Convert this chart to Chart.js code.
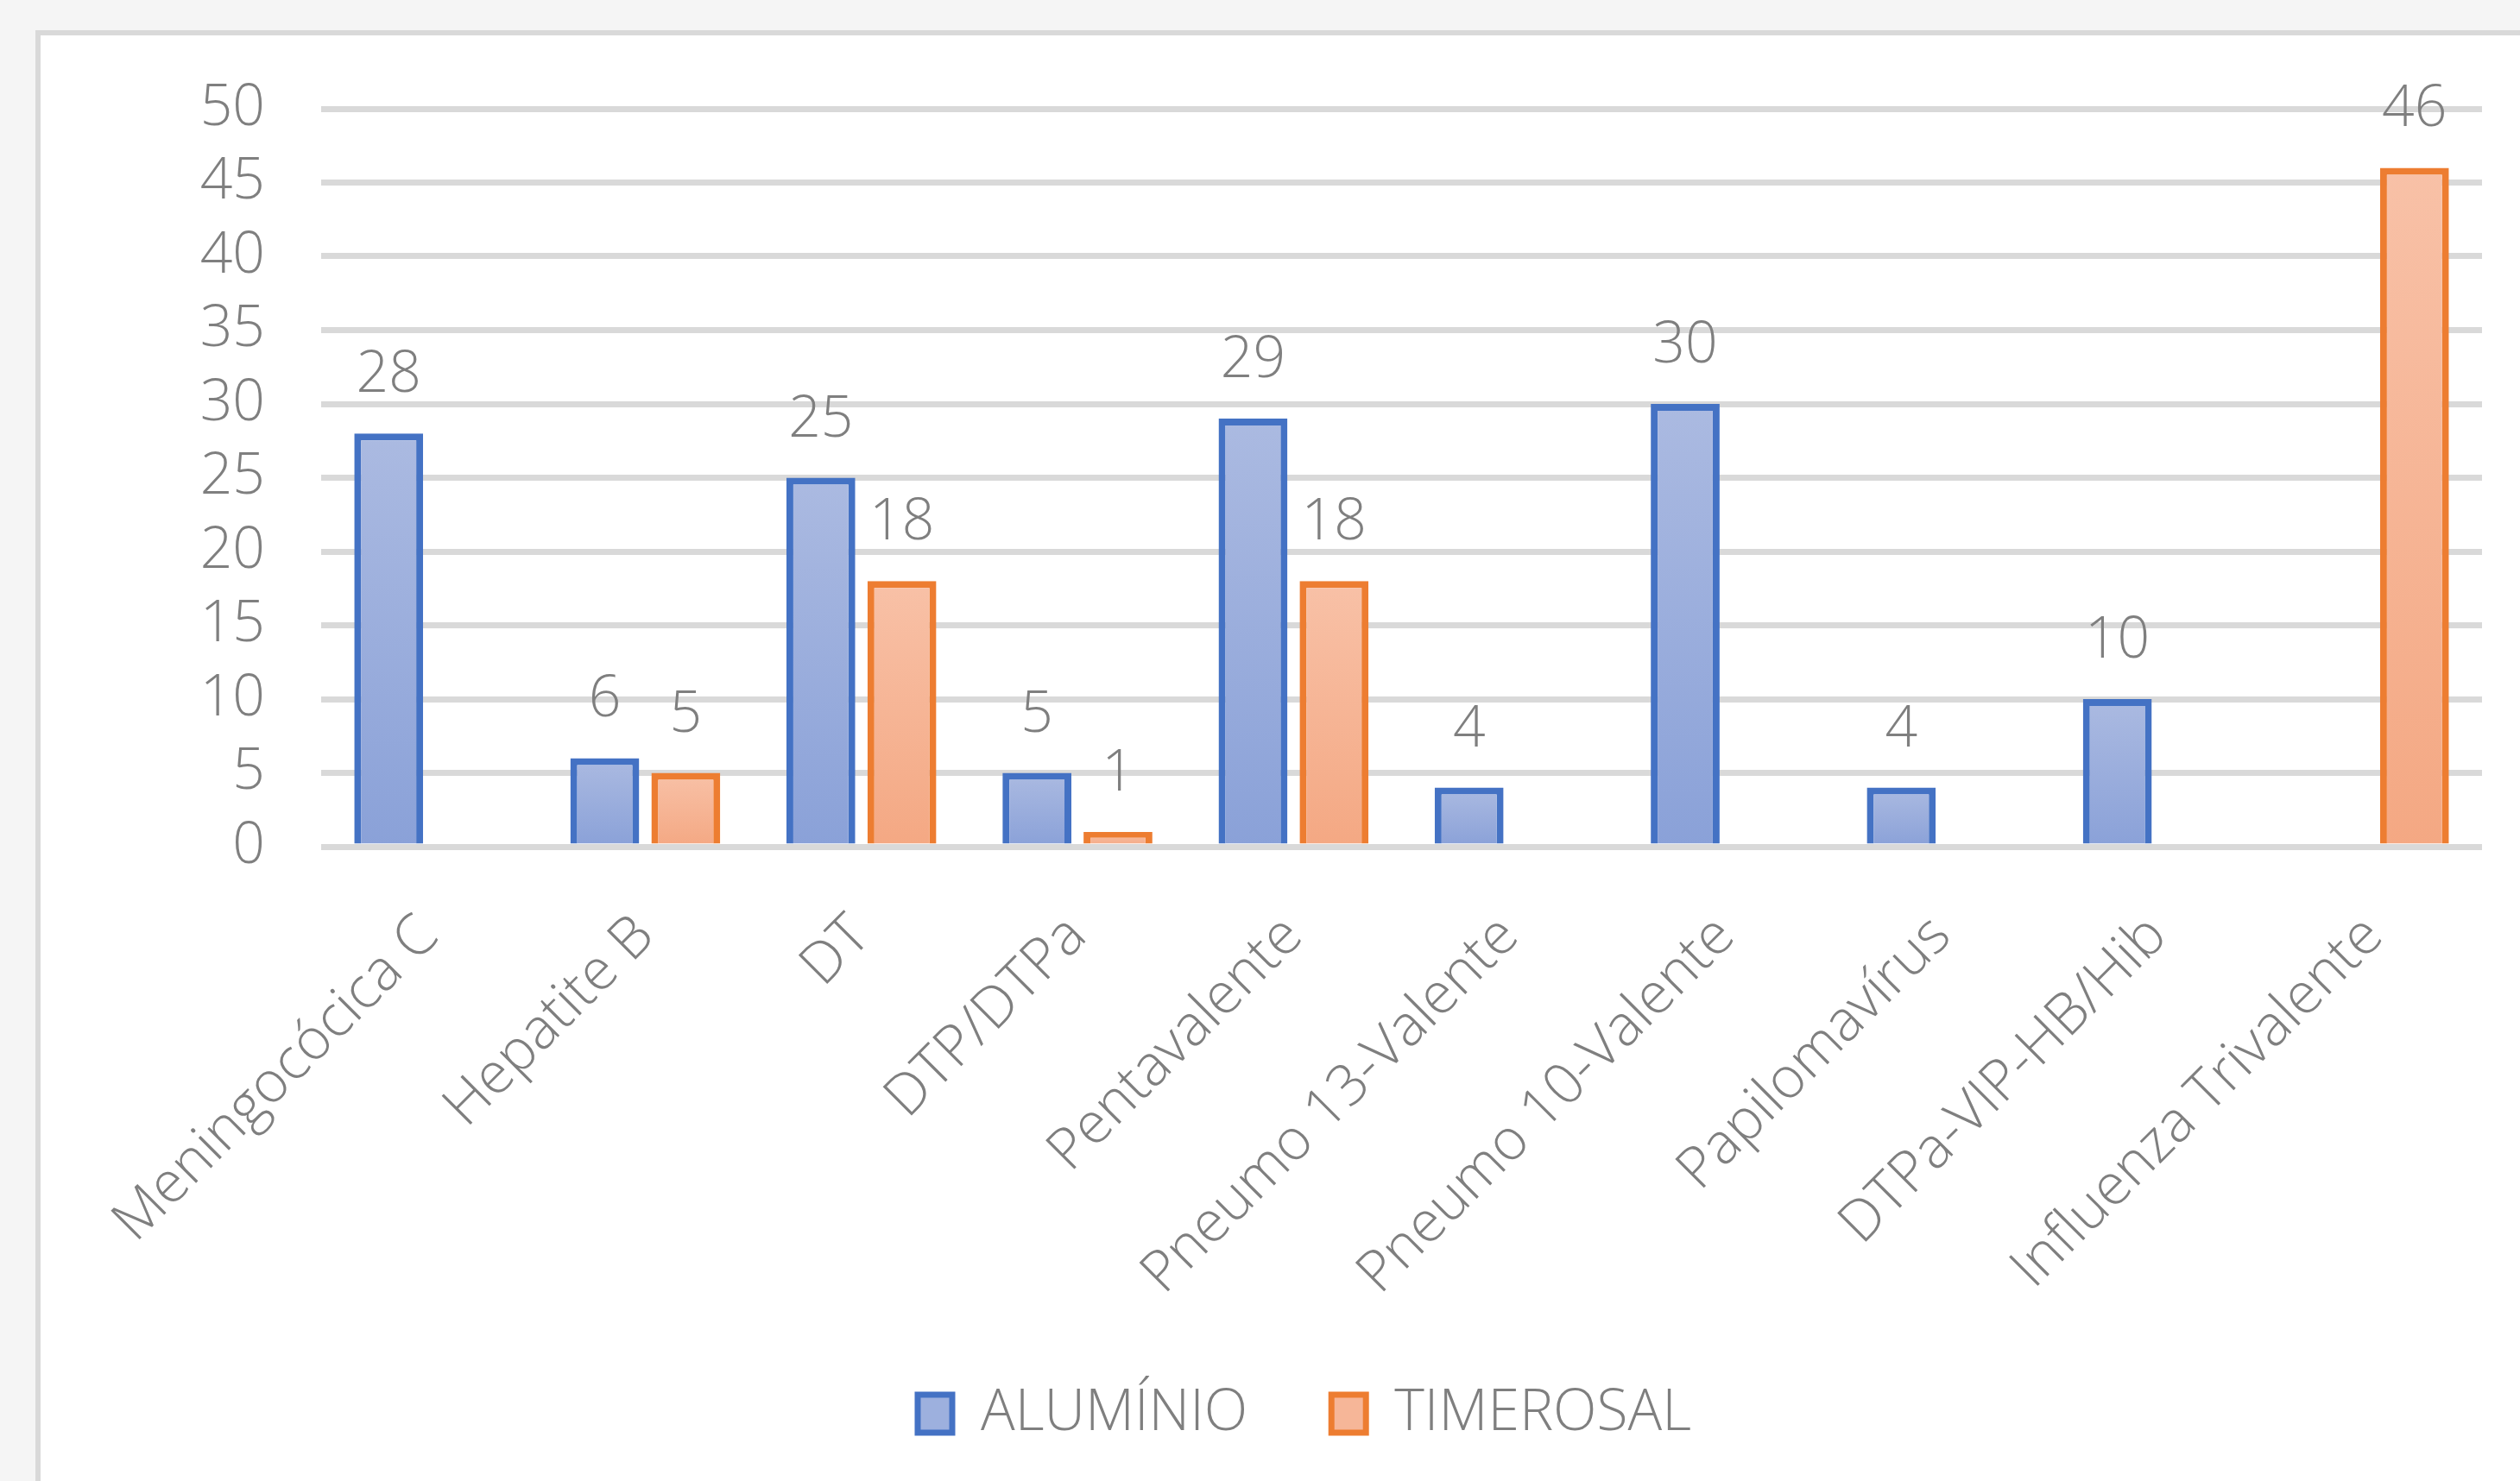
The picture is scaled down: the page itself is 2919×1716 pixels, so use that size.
<!DOCTYPE html>
<html>
<head>
<meta charset="utf-8">
<script src="https://cdn.jsdelivr.net/npm/chart.js@4.4.0/dist/chart.umd.min.js"></script>
<style>
  html, body { margin: 0; padding: 0; overflow: hidden; background: #f5f5f5; }
  body { width: 2919px; height: 1716px; position: relative; }
  #panel { position: absolute; left: 41px; top: 35px; width: 3000px; height: 1800px;
           background: #fff; border: 6px solid #d9d9d9; box-sizing: border-box; }
  #chart { position: absolute; left: 47px; top: 41px; }
</style>
</head>
<body>
<div id="panel"></div>
<canvas id="chart" width="2922" height="1675"></canvas>
<script>
// vaccines and counts
const categories = ['Meningocócica C', 'Hepatite B', 'DT', 'DTP/DTPa', 'Pentavalente',
  'Pneumo 13-Valente', 'Pneumo 10-Valente', 'Papilomavírus', 'DTPa-VIP-HB/Hib', 'Influenza Trivalente'];
const aluminio = [28, 6, 25, 5, 29, 4, 30, 4, 10, null];
const timerosal = [null, 5, 18, 1, 18, null, null, null, null, 46];
const yTicks = [0, 5, 10, 15, 20, 25, 30, 35, 40, 45, 50];

const FONT = { family: '"Open Sans", "Segoe UI", sans-serif', size: 66, weight: 300 };
const GRAY = '#7f7f7f';

// per-bar vertical gradient, light on top
function barGradient(top, bottom) {
  return (ctx) => {
    const chart = ctx.chart;
    const y = chart.scales.y;
    const v = ctx.raw;
    if (!y || v == null) return bottom;
    const y0 = y.getPixelForValue(v), y1 = y.getPixelForValue(0);
    if (!isFinite(y0) || !isFinite(y1) || y0 === y1) return bottom;
    const g = chart.ctx.createLinearGradient(0, y0, 0, y1);
    g.addColorStop(0, top);
    g.addColorStop(1, bottom);
    return g;
  };
}

// value labels above the bars
const valueLabels = {
  id: 'valueLabels',
  afterLayout(chart) {
    // legend sits centred on the whole panel, not on the plot
    chart.legend.left += 50;
    chart.legend.right += 50;
  },
  afterDatasetsDraw(chart) {
    const ctx = chart.ctx;
    ctx.save();
    ctx.font = FONT.weight + ' ' + FONT.size + 'px ' + FONT.family;
    ctx.fillStyle = GRAY;
    ctx.textAlign = 'center';
    ctx.textBaseline = 'alphabetic';
    chart.data.datasets.forEach((ds, i) => {
      chart.getDatasetMeta(i).data.forEach((bar, j) => {
        const v = ds.data[j];
        if (v == null) return;
        ctx.fillText(String(v), bar.x, bar.y - 48);
      });
    });
    ctx.restore();
  }
};

new Chart(document.getElementById('chart'), {
  type: 'bar',
  data: {
    labels: categories,
    datasets: [
      {
        label: 'ALUMÍNIO',
        data: aluminio,
        backgroundColor: barGradient('#abbae1', '#8aa1d8'),
        borderColor: '#4472c4',
        borderWidth: 8,
        legendFill: '#9db0de'
      },
      {
        label: 'TIMEROSAL',
        data: timerosal,
        backgroundColor: barGradient('#f8c1a7', '#f4a883'),
        borderColor: '#ed7d31',
        borderWidth: 8,
        legendFill: '#f6b698'
      }
    ]
  },
  options: {
    responsive: false,
    devicePixelRatio: 1,
    animation: false,
    categoryPercentage: 0.75,
    barPercentage: 0.85,
    layout: { padding: { left: 0, right: 94, top: 85, bottom: 35 } },
    scales: {
      x: {
        grid: { display: false },
        border: { display: false },
        ticks: { color: GRAY, font: FONT, maxRotation: 45, minRotation: 45, padding: 57 },
        afterFit(scale) { scale.height = 527; }
      },
      y: {
        min: 0,
        max: 50,
        afterBuildTicks(scale) { scale.ticks = yTicks.map(v => ({ value: v })); },
        grid: { color: '#d9d9d9', lineWidth: 7, drawTicks: false },
        border: { display: false },
        ticks: { color: GRAY, font: FONT, padding: 65 },
        afterFit(scale) {
          scale.width = 325;
          scale.paddingTop = 0;
          scale.paddingBottom = 0;
        }
      }
    },
    plugins: {
      tooltip: { enabled: false },
      legend: {
        position: 'bottom',
        labels: {
          color: GRAY,
          font: FONT,
          boxWidth: 40,
          boxHeight: 44,
          padding: 97,
          generateLabels(chart) {
            return chart.data.datasets.map((ds, i) => ({
              text: ds.label,
              fillStyle: ds.legendFill,
              strokeStyle: ds.borderColor,
              lineWidth: 7,
              fontColor: GRAY,
              datasetIndex: i,
              hidden: false
            }));
          }
        }
      }
    }
  },
  plugins: [valueLabels]
});
</script>
</body>
</html>
